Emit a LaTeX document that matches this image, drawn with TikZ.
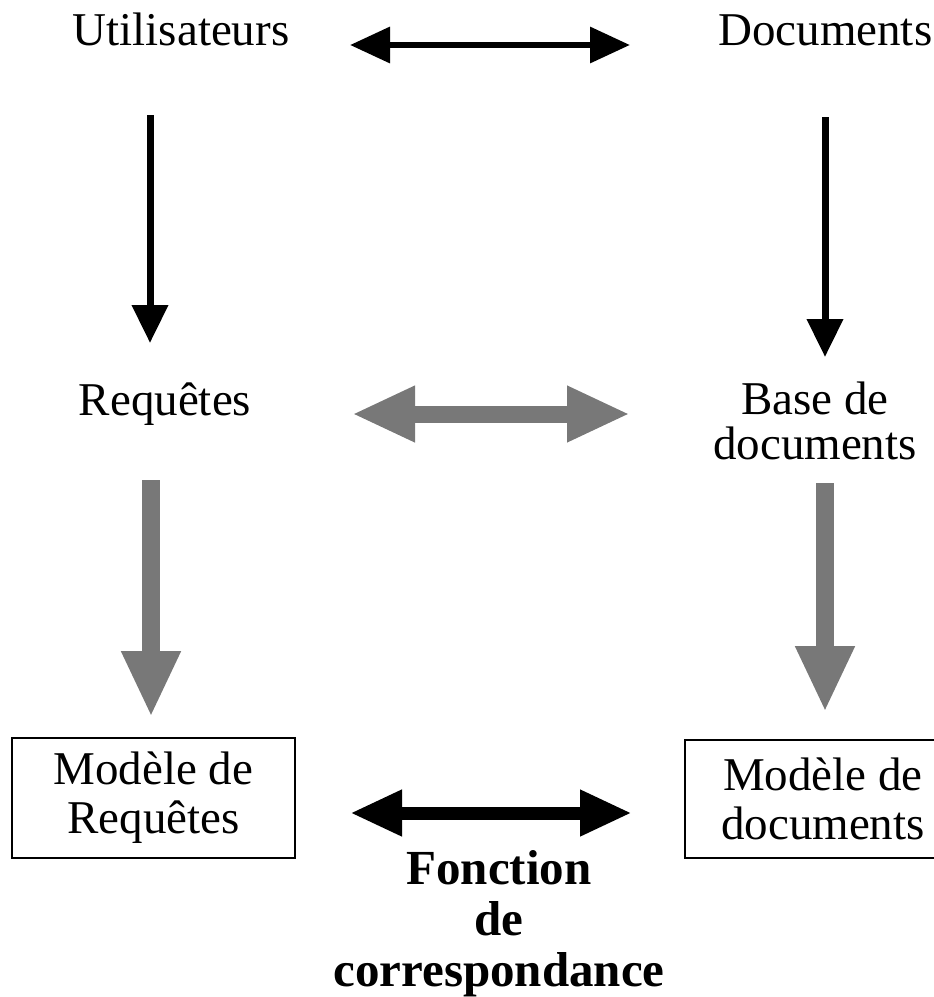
\documentclass[tikz,border=0pt]{standalone}
\usepackage{fontspec}
\setmainfont{Liberation Serif}
\usetikzlibrary{arrows.meta}
\definecolor{dither}{gray}{0.47}
\begin{document}
\begin{tikzpicture}[x=1pt,y=-1pt,
  lbl/.style={font=\fontsize{47}{49}\selectfont, inner sep=0pt, align=center},
  modelbox/.style={lbl, draw, line width=2pt},
  blackarrow/.style={draw=black, line width=6.5pt,
    {Triangle[length=40pt,width=35pt]}-{Triangle[length=40pt,width=35pt]}},
  blackdown/.style={draw=black, line width=7pt,
    -{Triangle[length=38pt,width=35pt]}},
  grayarrow/.style={draw=dither, line width=17pt,
    {Triangle[length=63pt,width=52pt]}-{Triangle[length=63pt,width=52pt]}},
  graydown/.style={draw=dither, line width=18pt,
    -{Triangle[length=66pt,width=55pt]}},
  boldarrow/.style={draw=black, line width=13pt,
    {Triangle[length=52pt,width=43pt]}-{Triangle[length=52pt,width=43pt]}}
]
\useasboundingbox (0,0) rectangle (934,997);

% labels
\node[lbl, anchor=base] (util) at (181,45) {Utilisateurs};
\node[lbl, anchor=base west] (docs) at (718,45) {Documents};
\node[lbl, anchor=base] (req) at (165,415) {Requêtes};
\node[lbl, font=\fontsize{47}{45}\selectfont] (based) at (815,421) {Base de\\documents};

% model boxes
\node[modelbox, minimum width=283pt, minimum height=120pt] (mreq) at (153.5,798) {Modèle de\\Requêtes};
\node[modelbox, minimum width=276pt, minimum height=118pt] (mdoc) at (823,799) {Modèle de\\documents};

% matching function label
\node[lbl, font=\bfseries\fontsize{49}{51}\selectfont] (fonc) at (499,924) {Fonction\\de\\correspondance};

% arrow end points
\coordinate (ua) at (350,45);   \coordinate (da) at (630,45);
\coordinate (ud) at (150,115);  \coordinate (rq) at (150,343);
\coordinate (dd) at (825,117);  \coordinate (bd) at (825,357);
\coordinate (ra) at (352,414);  \coordinate (ba) at (630,414);
\coordinate (rqd) at (151,480); \coordinate (mrq) at (151,717);
\coordinate (bdd) at (825,483); \coordinate (mdc) at (825,712);
\coordinate (ma) at (350,813);  \coordinate (mb) at (632,813);

% connectors
\draw[blackarrow] (ua) -- (da);
\draw[blackdown] (ud) -- (rq);
\draw[blackdown] (dd) -- (bd);
\draw[grayarrow] (ra) -- (ba);
\draw[graydown] (rqd) -- (mrq);
\draw[graydown] (bdd) -- (mdc);
\draw[boldarrow] (ma) -- (mb);
\end{tikzpicture}
\end{document}
